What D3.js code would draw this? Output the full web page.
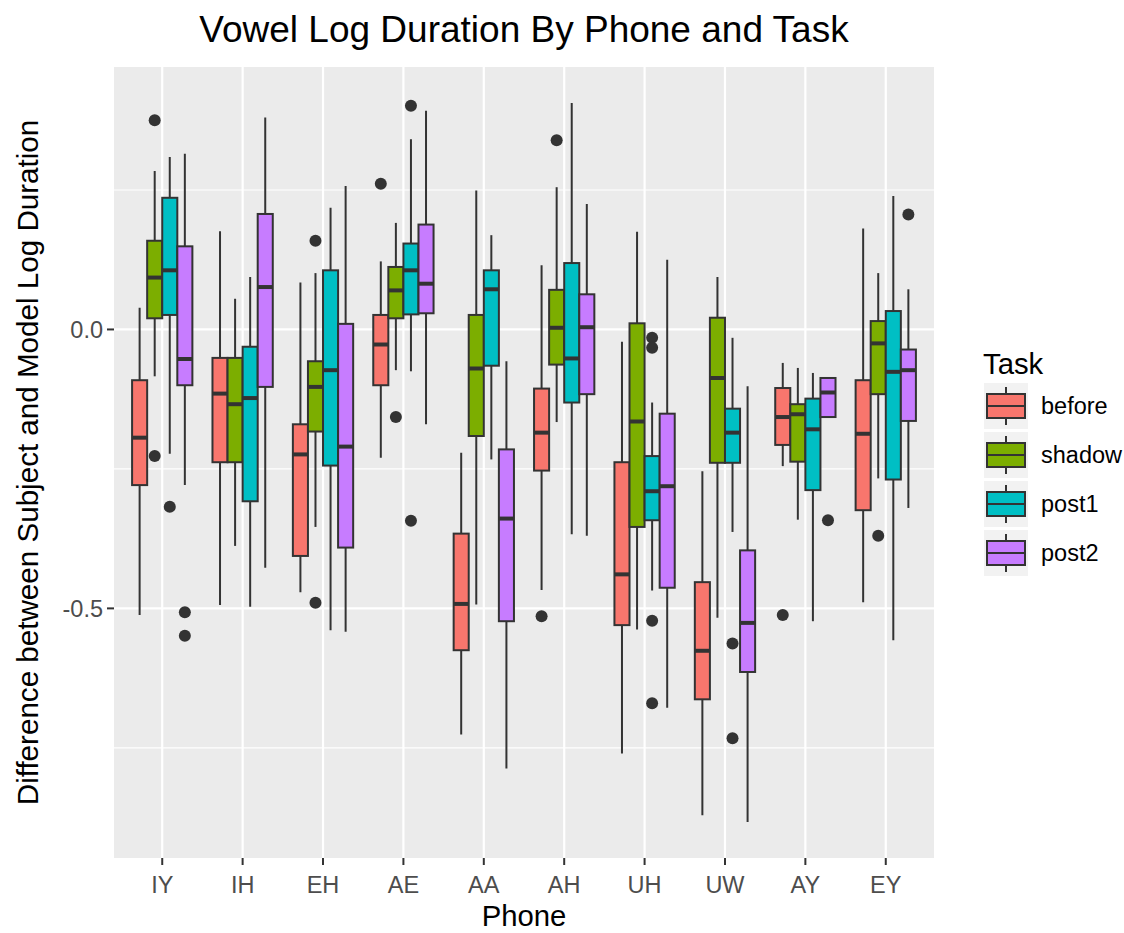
<!DOCTYPE html>
<html>
<head>
<meta charset="utf-8">
<script src="https://cdn.jsdelivr.net/npm/d3@7"></script>
<style>
  body { margin: 0; background: #fff; }
  svg { display: block; font-family: "Liberation Sans", Arial, Helvetica, sans-serif; }
</style>
</head>
<body>
<div id="chart"></div>
<script>
'use strict';

const phones = ['IY', 'IH', 'EH', 'AE', 'AA', 'AH', 'UH', 'UW', 'AY', 'EY'];
const tasks = ['before', 'shadow', 'post1', 'post2'];
const taskColors = ['#F8766D', '#7CAE00', '#00BFC4', '#C77CFF'];

// Five number summaries per phone: [whisker low, q1, median, q3, whisker high]
const before = [
  [-0.512, -0.279, -0.194, -0.091, 0.039],
  [-0.494, -0.238, -0.115, -0.051, 0.176],
  [-0.471, -0.406, -0.224, -0.170, 0.084],
  [-0.230, -0.100, -0.027, 0.026, 0.122],
  [-0.726, -0.575, -0.492, -0.366, -0.221],
  [-0.467, -0.253, -0.185, -0.106, 0.115],
  [-0.760, -0.530, -0.439, -0.238, -0.022],
  [-0.871, -0.663, -0.576, -0.453, -0.254],
  [-0.245, -0.207, -0.157, -0.105, -0.060],
  [-0.489, -0.324, -0.187, -0.091, 0.181]
];
const shadow = [
  [-0.084, 0.020, 0.093, 0.159, 0.284],
  [-0.388, -0.238, -0.134, -0.051, 0.055],
  [-0.354, -0.183, -0.103, -0.057, 0.101],
  [-0.073, 0.020, 0.070, 0.112, 0.191],
  [-0.493, -0.191, -0.070, 0.026, 0.249],
  [-0.166, -0.063, 0.003, 0.071, 0.255],
  [-0.538, -0.354, -0.165, 0.011, 0.175],
  [-0.517, -0.239, -0.087, 0.021, 0.094],
  [-0.341, -0.237, -0.152, -0.134, -0.069],
  [-0.267, -0.116, -0.025, 0.015, 0.101]
];
const post1 = [
  [-0.223, 0.026, 0.106, 0.236, 0.309],
  [-0.497, -0.308, -0.123, -0.031, 0.094],
  [-0.539, -0.244, -0.073, 0.106, 0.218],
  [-0.075, 0.027, 0.106, 0.154, 0.341],
  [-0.233, -0.065, 0.072, 0.106, 0.169],
  [-0.367, -0.131, -0.052, 0.119, 0.406],
  [-0.468, -0.342, -0.290, -0.227, -0.131],
  [-0.363, -0.239, -0.185, -0.142, -0.015],
  [-0.523, -0.288, -0.179, -0.124, -0.078],
  [-0.557, -0.269, -0.076, 0.033, 0.239]
];
const post2 = [
  [-0.279, -0.100, -0.053, 0.149, 0.315],
  [-0.427, -0.103, 0.076, 0.207, 0.380],
  [-0.542, -0.391, -0.210, 0.010, 0.257],
  [-0.170, 0.029, 0.082, 0.188, 0.392],
  [-0.787, -0.523, -0.339, -0.215, -0.057],
  [-0.370, -0.116, 0.004, 0.063, 0.225],
  [-0.678, -0.463, -0.281, -0.151, 0.125],
  [-0.883, -0.614, -0.526, -0.396, -0.102],
  [-0.157, -0.157, -0.113, -0.087, -0.087],
  [-0.320, -0.164, -0.073, -0.036, 0.072]
];

// Outliers: [phone, task, value]
const outliers = [
  ['IY', 'shadow', 0.375], ['IY', 'shadow', -0.227], ['IY', 'post1', -0.318],
  ['IY', 'post2', -0.507], ['IY', 'post2', -0.549],
  ['EH', 'shadow', 0.159], ['EH', 'shadow', -0.490],
  ['AE', 'before', 0.261], ['AE', 'shadow', -0.157], ['AE', 'post1', 0.401], ['AE', 'post1', -0.343],
  ['AH', 'before', -0.514], ['AH', 'shadow', 0.339],
  ['UH', 'post1', -0.015], ['UH', 'post1', -0.033], ['UH', 'post1', -0.522], ['UH', 'post1', -0.670],
  ['UW', 'post1', -0.563], ['UW', 'post1', -0.733],
  ['AY', 'before', -0.512], ['AY', 'post2', -0.342],
  ['EY', 'shadow', -0.370], ['EY', 'post2', 0.206]
];

const yMajor = [-0.5, 0.0];
const yMinor = [-0.75, -0.25, 0.25];
const yTickLabels = ['-0.5', '0.0'];

const width = 1124, height = 933;
const panel = { left: 114, right: 934, top: 67, bottom: 858 };

const series = [before, shadow, post1, post2];
const boxes = [];
series.forEach((rows, t) => {
  rows.forEach((s, p) => {
    boxes.push({ phone: phones[p], task: tasks[t], lo: s[0], q1: s[1], med: s[2], q3: s[3], hi: s[4] });
  });
});

// ggplot style 5% expansion of the data range.
const allValues = boxes.flatMap(d => [d.lo, d.hi]).concat(outliers.map(d => d[2]));
const [vMin, vMax] = d3.extent(allValues);
const pad = (vMax - vMin) * 0.05;

const x = d3.scalePoint().domain(phones).range([panel.left, panel.right]).padding(0.6);
const dodge = d3.scaleBand().domain(tasks).range([-0.375 * x.step(), 0.375 * x.step()]);
const y = d3.scaleLinear().domain([vMin - pad, vMax + pad]).range([panel.bottom, panel.top]);
const color = d3.scaleOrdinal().domain(tasks).range(taskColors);
const cx = d => x(d.phone) + dodge(d.task) + dodge.bandwidth() / 2;

const $svg = d3.select('#chart').append('svg').attr('width', width).attr('height', height);

// Panel background and grid.
$svg.append('rect')
  .attr('x', panel.left).attr('y', panel.top)
  .attr('width', panel.right - panel.left).attr('height', panel.bottom - panel.top)
  .attr('fill', '#EBEBEB');

$svg.append('g').selectAll('line').data(yMinor).enter().append('line')
  .attr('x1', panel.left).attr('x2', panel.right)
  .attr('y1', d => y(d)).attr('y2', d => y(d))
  .attr('stroke', '#fff').attr('stroke-width', 1.1);

$svg.append('g').selectAll('line').data(yMajor).enter().append('line')
  .attr('x1', panel.left).attr('x2', panel.right)
  .attr('y1', d => y(d)).attr('y2', d => y(d))
  .attr('stroke', '#fff').attr('stroke-width', 2.2);

$svg.append('g').selectAll('line').data(phones).enter().append('line')
  .attr('x1', d => x(d)).attr('x2', d => x(d))
  .attr('y1', panel.top).attr('y2', panel.bottom)
  .attr('stroke', '#fff').attr('stroke-width', 2.2);

// Boxplots.
const $boxes = $svg.append('g').selectAll('g').data(boxes).enter().append('g');
const bw = dodge.bandwidth();

$boxes.append('line')
  .attr('x1', cx).attr('x2', cx)
  .attr('y1', d => y(d.hi)).attr('y2', d => y(d.lo))
  .attr('stroke', '#333').attr('stroke-width', 2);

$boxes.append('rect')
  .attr('x', d => cx(d) - bw / 2).attr('width', bw)
  .attr('y', d => y(d.q3)).attr('height', d => y(d.q1) - y(d.q3))
  .attr('fill', d => color(d.task))
  .attr('stroke', '#333').attr('stroke-width', 2);

$boxes.append('line')
  .attr('x1', d => cx(d) - bw / 2).attr('x2', d => cx(d) + bw / 2)
  .attr('y1', d => y(d.med)).attr('y2', d => y(d.med))
  .attr('stroke', '#333').attr('stroke-width', 4);

$svg.append('g').selectAll('circle').data(outliers).enter().append('circle')
  .attr('cx', d => cx({ phone: d[0], task: d[1] }))
  .attr('cy', d => y(d[2]))
  .attr('r', 6)
  .attr('fill', '#333');

// Axes.
const $yAxis = $svg.append('g').selectAll('g').data(yMajor).enter().append('g');
$yAxis.append('line')
  .attr('x1', panel.left - 7).attr('x2', panel.left)
  .attr('y1', d => y(d)).attr('y2', d => y(d))
  .attr('stroke', '#333').attr('stroke-width', 2);
$yAxis.append('text')
  .attr('x', panel.left - 11).attr('y', d => y(d)).attr('dy', '0.36em')
  .attr('text-anchor', 'end').attr('font-size', 23.5).attr('fill', '#4D4D4D')
  .text((d, i) => yTickLabels[i]);

const $xAxis = $svg.append('g').selectAll('g').data(phones).enter().append('g');
$xAxis.append('line')
  .attr('x1', d => x(d)).attr('x2', d => x(d))
  .attr('y1', panel.bottom).attr('y2', panel.bottom + 7)
  .attr('stroke', '#333').attr('stroke-width', 2);
$xAxis.append('text')
  .attr('x', d => x(d)).attr('y', panel.bottom + 35)
  .attr('text-anchor', 'middle').attr('font-size', 23.5).attr('fill', '#4D4D4D')
  .text(d => d);

// Titles.
$svg.append('text')
  .attr('x', (panel.left + panel.right) / 2).attr('y', 42)
  .attr('text-anchor', 'middle').attr('font-size', 37).attr('fill', '#000')
  .text('Vowel Log Duration By Phone and Task');

$svg.append('text')
  .attr('x', (panel.left + panel.right) / 2).attr('y', 926)
  .attr('text-anchor', 'middle').attr('font-size', 29.3).attr('fill', '#000')
  .text('Phone');

$svg.append('text')
  .attr('transform', 'translate(38,' + ((panel.top + panel.bottom) / 2) + ') rotate(-90)')
  .attr('text-anchor', 'middle').attr('font-size', 29.6).attr('fill', '#000')
  .text('Difference between Subject and Model Log Duration');

// Legend.
const legend = { x: 984, y: 383, key: 46, gap: 49 };
const $legend = $svg.append('g');
$legend.append('text')
  .attr('x', legend.x - 1).attr('y', legend.y - 9)
  .attr('font-size', 29.3).attr('fill', '#000')
  .text('Task');

const $keys = $legend.selectAll('g').data(tasks).enter().append('g')
  .attr('transform', (d, i) => 'translate(' + legend.x + ',' + (legend.y + i * legend.gap) + ')');

$keys.append('rect')
  .attr('width', legend.key - 2).attr('height', legend.key)
  .attr('fill', '#F2F2F2');
$keys.append('line')
  .attr('x1', legend.key / 2 - 1).attr('x2', legend.key / 2 - 1)
  .attr('y1', 4).attr('y2', legend.key - 4)
  .attr('stroke', '#333').attr('stroke-width', 2);
$keys.append('rect')
  .attr('x', 3).attr('width', legend.key - 8)
  .attr('y', 11).attr('height', legend.key - 22)
  .attr('fill', d => color(d))
  .attr('stroke', '#333').attr('stroke-width', 2);
$keys.append('line')
  .attr('x1', 3).attr('x2', legend.key - 5)
  .attr('y1', legend.key / 2).attr('y2', legend.key / 2)
  .attr('stroke', '#333').attr('stroke-width', 2);
$keys.append('text')
  .attr('x', legend.key + 11).attr('y', legend.key / 2).attr('dy', '0.36em')
  .attr('font-size', 23.5).attr('fill', '#000')
  .text(d => d);
</script>
</body>
</html>
